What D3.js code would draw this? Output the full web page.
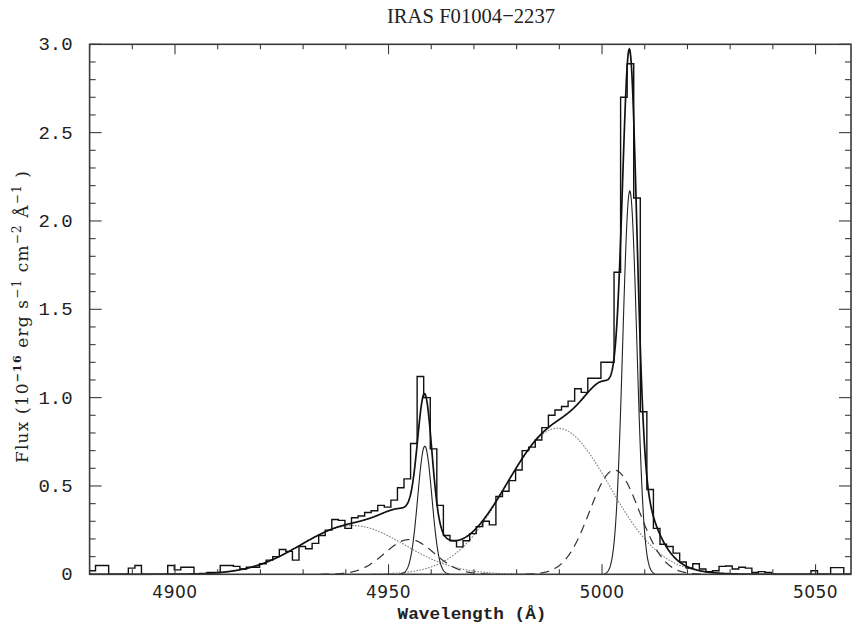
<!DOCTYPE html>
<head>
  <meta charset="utf-8">
  <script src="https://d3js.org/d3.v7.min.js"></script>
  <style>
    body { margin:0; background:#fff; }
  </style>
</head>
<body>
<script>
  // observed spectrum: fixed-width bins starting at binStart
  const binStart = 4879.85
  const binWidth = 1.537
  const flux = [
    0.02, 0.05, 0.05, 0, 0, 0, 0.035, 0.05, 0, 0,
    0, 0, 0.05, 0.025, 0.04, 0.04, 0, 0, 0.01, 0.01,
    0.05, 0.05, 0.045, 0.03, 0.04, 0.04, 0.06, 0.08, 0.10, 0.14,
    0.13, 0.08, 0.157, 0.145, 0.175, 0.22, 0.25, 0.31, 0.305, 0.26,
    0.32, 0.33, 0.35, 0.36, 0.39, 0.38, 0.42, 0.49, 0.54, 0.74,
    1.12, 1.00, 0.71, 0.39, 0.22, 0.19, 0.155, 0.19, 0.23, 0.27,
    0.30, 0.28, 0.44, 0.47, 0.53, 0.59, 0.70, 0.72, 0.76, 0.83,
    0.90, 0.93, 0.95, 0.98, 1.05, 1.03, 1.11, 1.11, 1.20, 1.20,
    1.71, 2.70, 2.89, 2.13, 0.92, 0.48, 0.26, 0.17, 0.157, 0.12,
    0.07, 0.035, 0.06, 0.03, 0.015, 0.02, 0.045, 0.047, 0.03, 0.04,
    0.035, 0.01, 0.015, 0.01, 0, 0, 0, 0, 0, 0,
    0.02, 0, 0, 0.038, 0.038, 0, 0
  ]

  // gaussian fit components, [OIII] 4959 and 5007: [centre, peak, sigma]
  const narrow = [[4958.5, 0.725, 1.65], [5006.5, 2.17, 1.65]]
  const inter  = [[4954.9, 0.197, 5.8], [5002.9, 0.59, 5.8]]
  const broad  = [[4941.6, 0.276, 12.1], [4989.6, 0.827, 12.1]]

  const xMajor = [4900, 4950, 5000, 5050]
  const yMajor = [0, 0.5, 1.0, 1.5, 2.0, 2.5, 3.0]
  const yLabels = ["0", "0.5", "1.0", "1.5", "2.0", "2.5", "3.0"]

  var margin = {top: 44.3, right: 2, bottom: 57.7, left: 89.6},
    width = 853 - margin.left - margin.right,
    height = 632 - margin.top - margin.bottom;

  var svg = d3.select("body").append("svg")
    .attr("width", 853)
    .attr("height", 632)

  var g = svg.append("g")
    .attr("transform", "translate(" + margin.left + "," + margin.top + ")")

  const x = d3.scaleLinear().domain([4880, 5058.3]).range([0, width])
  const y = d3.scaleLinear().domain([0, 3]).range([height, 0])

  g.append("clipPath").attr("id", "clip")
    .append("rect").attr("width", width).attr("height", height + 1)

  var plot = g.append("g").attr("clip-path", "url(#clip)")

  function gauss(c) {
    var pts = []
    for (var w = c[0] - 3.6 * c[2]; w <= c[0] + 3.6 * c[2]; w += 0.1)
      pts.push([w, c[1] * Math.exp(-0.5 * Math.pow((w - c[0]) / c[2], 2))])
    return pts
  }
  var line = d3.line().x(d => x(d[0])).y(d => y(d[1]))

  // components
  broad.forEach(c => plot.append("path").attr("d", line(gauss(c)))
    .attr("fill", "none").attr("stroke", "#808080").attr("stroke-width", 1.1)
    .attr("stroke-dasharray", "1.6,1.4"))
  inter.forEach(c => plot.append("path").attr("d", line(gauss(c)))
    .attr("fill", "none").attr("stroke", "#333").attr("stroke-width", 1.2)
    .attr("stroke-dasharray", "9,6"))
  narrow.forEach(c => plot.append("path").attr("d", line(gauss(c)))
    .attr("fill", "none").attr("stroke", "#222").attr("stroke-width", 1.1))

  // total fit
  var all = narrow.concat(inter, broad)
  var fit = []
  for (var w = 4880; w <= 5058.3; w += 0.1) {
    var s = 0
    all.forEach(c => { s += c[1] * Math.exp(-0.5 * Math.pow((w - c[0]) / c[2], 2)) })
    fit.push([w, s])
  }
  plot.append("path").attr("d", line(fit))
    .attr("fill", "none").attr("stroke", "#111").attr("stroke-width", 1.7)

  // histogram
  var steps = flux.map((f, i) => [binStart + i * binWidth, f])
  steps.push([binStart + flux.length * binWidth, flux[flux.length - 1]])
  plot.append("path")
    .attr("d", d3.line().curve(d3.curveStepAfter).x(d => x(d[0])).y(d => y(d[1]))(steps))
    .attr("fill", "none").attr("stroke", "#111").attr("stroke-width", 1.4)

  // frame and ticks (inward, mirrored)
  var ax = g.append("g").attr("stroke", "#3a3a3a").attr("fill", "none")
  ax.append("rect").attr("width", width).attr("height", height).attr("stroke-width", 1.6)

  var xMinor = d3.range(4880, 5059, 10)
  xMinor.forEach(function(t) {
    var L = xMajor.indexOf(t) >= 0 ? 10 : 5
    ax.append("line").attr("x1", x(t)).attr("x2", x(t)).attr("y1", height).attr("y2", height - L).attr("stroke-width", 1.1)
    ax.append("line").attr("x1", x(t)).attr("x2", x(t)).attr("y1", 0).attr("y2", L).attr("stroke-width", 1.1)
  })
  d3.range(0, 31).forEach(function(i) {
    var t = i / 10
    var L = (i % 5 == 0) ? 12 : 6
    ax.append("line").attr("x1", 0).attr("x2", L).attr("y1", y(t)).attr("y2", y(t)).attr("stroke-width", 1.1)
    ax.append("line").attr("x1", width).attr("x2", width - L).attr("y1", y(t)).attr("y2", y(t)).attr("stroke-width", 1.1)
  })

  // tick labels
  g.selectAll(".xl").data(xMajor).enter().append("text")
    .attr("x", d => x(d)).attr("y", height + 23.5)
    .attr("text-anchor", "middle")
    .style("font-family", "DejaVu Sans").style("font-size", "17px").style("letter-spacing", "0.5px")
    .attr("fill", "#222")
    .text(d => d)

  g.selectAll(".yl").data(yMajor).enter().append("text")
    .attr("x", -17).attr("y", d => y(d) + 6)
    .attr("text-anchor", "end")
    .style("font-family", "Liberation Mono").style("font-size", "19px")
    .attr("fill", "#222")
    .text((d, i) => yLabels[i])

  // titles
  svg.append("text").attr("x", 471).attr("y", 23).attr("text-anchor", "middle")
    .attr("textLength", 168).attr("lengthAdjust", "spacingAndGlyphs")
    .style("font-family", "Liberation Serif").style("font-size", "22px")
    .attr("fill", "#222")
    .text("IRAS F01004\u22122237")

  svg.append("text").attr("x", 472).attr("y", 619).attr("text-anchor", "middle")
    .attr("textLength", 149).attr("lengthAdjust", "spacingAndGlyphs")
    .style("font-family", "Liberation Mono").style("font-size", "17px").style("font-weight", "bold")
    .attr("fill", "#222")
    .text("Wavelength (\u00c5)")

  var yt = svg.append("text")
    .attr("transform", "translate(28,317) rotate(-90)")
    .attr("text-anchor", "middle")
    .attr("textLength", 292).attr("lengthAdjust", "spacing")
    .style("font-family", "DejaVu Serif").style("font-size", "17px")
    .attr("fill", "#222")
  yt.append("tspan").text("Flux (10")
  yt.append("tspan").attr("dy", -7).style("font-size", "11px").style("font-weight", "bold").text("\u221216")
  yt.append("tspan").attr("dy", 7).text(" erg s")
  yt.append("tspan").attr("dy", -7).style("font-size", "12px").text("\u22121")
  yt.append("tspan").attr("dy", 7).text(" cm")
  yt.append("tspan").attr("dy", -7).style("font-size", "12px").text("\u22122")
  yt.append("tspan").attr("dy", 7).text(" \u00c5")
  yt.append("tspan").attr("dy", -7).style("font-size", "12px").text("\u22121")
  yt.append("tspan").attr("dy", 7).text(" )")
</script>
</body>
